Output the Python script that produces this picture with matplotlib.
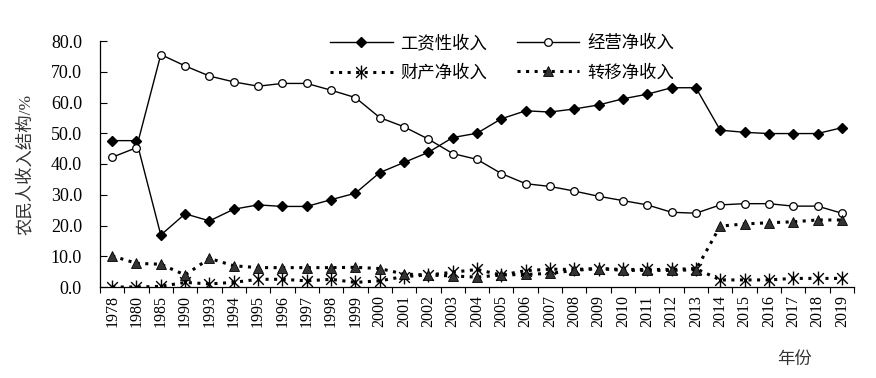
import matplotlib
matplotlib.use("Agg")
import matplotlib.pyplot as plt
from matplotlib.path import Path
import numpy as np

plt.rcParams['font.family'] = ['Liberation Serif', 'Noto Sans CJK SC']

years = ['1978', '1980', '1985', '1990', '1993', '1994', '1995', '1996', '1997', '1998',
         '1999', '2000', '2001', '2002', '2003', '2004', '2005', '2006', '2007', '2008',
         '2009', '2010', '2011', '2012', '2013', '2014', '2015', '2016', '2017', '2018', '2019']

wage = [47.6, 47.6, 16.9, 23.8, 21.5, 25.3, 26.7, 26.2, 26.2, 28.4,
        30.5, 37.2, 40.5, 43.8, 48.6, 50.0, 54.7, 57.3, 56.9, 57.9,
        59.2, 61.2, 62.7, 64.8, 64.8, 51.0, 50.3, 49.9, 49.9, 49.9, 51.8]
business = [42.2, 45.3, 75.6, 71.9, 68.6, 66.7, 65.3, 66.2, 66.2, 64.0,
            61.6, 55.1, 52.1, 48.1, 43.4, 41.5, 36.9, 33.6, 32.7, 31.2,
            29.5, 28.1, 26.7, 24.3, 24.0, 26.7, 27.1, 27.1, 26.3, 26.3, 24.0]
property_inc = [0.0, 0.0, 0.2, 1.5, 1.0, 1.5, 2.5, 2.5, 2.0, 2.5,
                1.5, 2.0, 3.4, 3.9, 4.8, 5.7, 3.9, 5.3, 5.8, 5.7,
                6.0, 5.7, 5.7, 5.7, 6.0, 2.3, 2.3, 2.3, 2.8, 2.8, 2.8]
transfer = [10.1, 7.7, 7.4, 3.9, 9.3, 6.9, 6.3, 6.3, 6.3, 6.3,
            6.4, 6.0, 4.2, 3.9, 3.6, 3.2, 3.9, 4.1, 4.4, 5.4,
            6.0, 5.4, 5.4, 5.4, 5.6, 19.8, 20.5, 20.9, 21.2, 21.8, 21.8]

labels = ['工资性收入', '经营净收入', '财产净收入', '转移净收入']
yticks = [0, 10, 20, 30, 40, 50, 60, 70, 80]

star = Path([(-1, -1), (1, 1), (-1, 1), (1, -1), (0, -1.3), (0, 1.3)],
            [Path.MOVETO, Path.LINETO, Path.MOVETO, Path.LINETO, Path.MOVETO, Path.LINETO])

fig = plt.figure(figsize=(8.76, 3.78), dpi=100)
ax = fig.add_axes([100/876, 1-287/378, 754/876, 246/378])
x = np.arange(len(years))

dots = (1.0, 1.8)
l1, = ax.plot(x, wage, color='black', lw=1.0, marker='D', ms=5.5, mfc='black', mec='black')
l2, = ax.plot(x, business, color='black', lw=1.0, marker='o', ms=5.5, mfc='white', mec='black', mew=0.9)
l3, = ax.plot(x, property_inc, color='black', lw=2.2, dashes=dots, marker=star, ms=10,
              mfc='none', mec='black', mew=1.0)
l4, = ax.plot(x, transfer, color='black', lw=2.2, dashes=dots, marker='^', ms=7.5,
              mfc='#333333', mec='black', mew=0.6)

ax.set_xlim(-0.5, len(years) - 0.5)
ax.set_ylim(0, 80)
ax.set_yticks(yticks)
ax.set_yticklabels([f'{v:.1f}' for v in yticks], fontsize=13)
ax.set_xticks(x)
ax.set_xticklabels(years, rotation=90, fontsize=11.5)
ax.set_xticks(np.arange(-0.5, len(years), 1), minor=True)
ax.tick_params(axis='x', which='major', length=0, pad=6)
ax.tick_params(axis='x', which='minor', length=4, direction='out', width=0.8)
ax.tick_params(axis='y', direction='in', length=5, width=0.8, pad=13)
ax.spines['top'].set_visible(False)
ax.spines['right'].set_visible(False)
ax.spines['left'].set_linewidth(0.9)
ax.spines['bottom'].set_linewidth(0.9)

ax.set_ylabel('农民人收入结构/%', fontsize=12.5, color='#333333', labelpad=12)
fig.text(795/876, 1-360/378, '年份', fontsize=12.5, ha='center', va='center', color='#333333')

fig.legend([l1, l3, l2, l4], [labels[0], labels[2], labels[1], labels[3]], ncol=2,
           loc='upper left',
           bbox_to_anchor=(330/876, 1-35/378), frameon=False, fontsize=12.5,
           handlelength=3.6, handletextpad=0.45, columnspacing=1.7, labelspacing=0.75,
           borderpad=0, borderaxespad=0)

fig.savefig('out.png', dpi=100)
